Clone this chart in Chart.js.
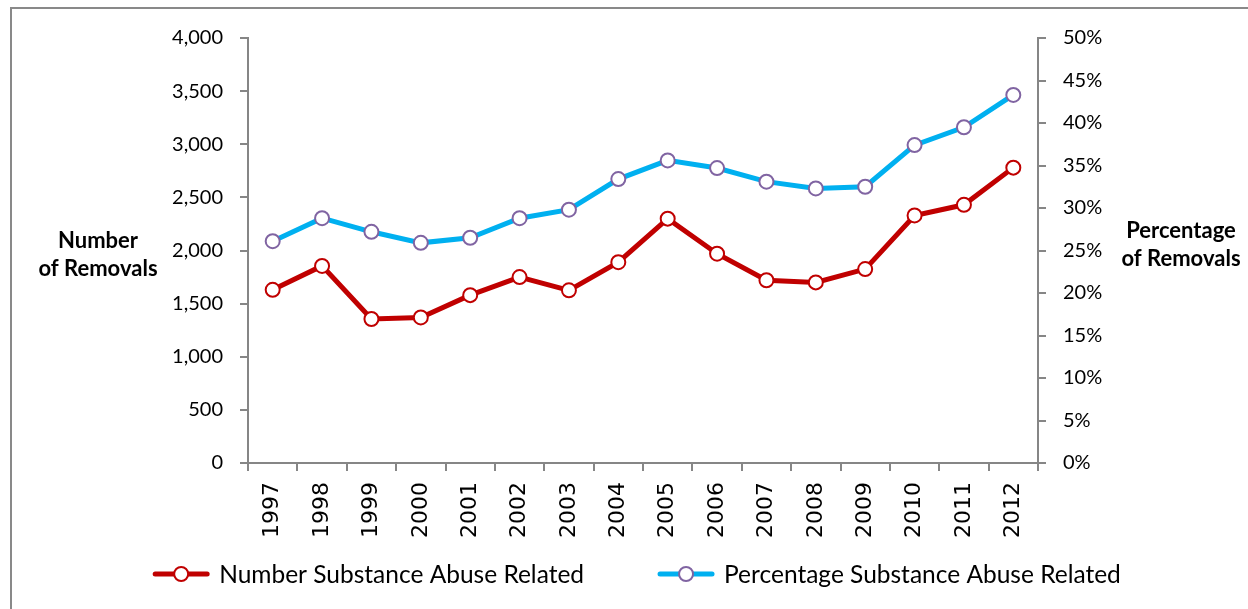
<!DOCTYPE html>
<html>
<head>
<meta charset="utf-8">
<script src="https://cdn.jsdelivr.net/npm/chart.js@4.4.1/dist/chart.umd.min.js"></script>
<style>
  html, body { margin: 0; padding: 0; background: #fff; overflow: hidden; }
  #frame { position: absolute; left: 10px; top: 7px; width: 1240px; height: 620px; border: 2px solid #898989; }
  #wrap { position: absolute; left: 0; top: 0; width: 1236px; height: 600px; }
</style>
</head>
<body>
<div id="frame"><div id="wrap"><canvas id="removalsChart"></canvas></div></div>
<script>
const years = ["1997", "1998", "1999", "2000", "2001", "2002", "2003", "2004",
  "2005", "2006", "2007", "2008", "2009", "2010", "2011", "2012"];
const numberRelated = [1630, 1855, 1355, 1370, 1580, 1750, 1625, 1890,
  2300, 1970, 1720, 1700, 1825, 2330, 2430, 2780];
const percentRelated = [26.1, 28.8, 27.2, 25.9, 26.5, 28.8, 29.8, 33.4,
  35.6, 34.7, 33.1, 32.3, 32.5, 37.4, 39.5, 43.3];

const leftTitle = ["Number", "of Removals"];
const rightTitle = ["Percentage", "of Removals"];
const seriesNames = ["Number Substance Abuse Related", "Percentage Substance Abuse Related"];

const RED = "#C00000";
const BLUE = "#00B0F0";
const PURPLE = "#8064A2";
const AXIS = "#868686";
const TEXT = "#000000";

// horizontal axis titles + legend with line/marker samples
const extras = {
  id: "extras",
  afterDraw(chart) {
    const { ctx, chartArea } = chart;
    ctx.save();
    ctx.fillStyle = TEXT;
    ctx.font = "bold 22px Lato";
    ctx.textAlign = "center";
    ctx.textBaseline = "middle";
    const midY = (chartArea.top + chartArea.bottom) / 2;
    ctx.fillText(leftTitle[0], chartArea.left - 150, midY - 10);
    ctx.fillText(leftTitle[1], chartArea.left - 150, midY + 18);
    ctx.fillText(rightTitle[0], chartArea.right + 143, midY - 20);
    ctx.fillText(rightTitle[1], chartArea.right + 143, midY + 8);

    // legend
    ctx.font = "24.5px Lato";
    const lineLen = 56, gapText = 10, gapItem = 74;
    const w0 = ctx.measureText(seriesNames[0]).width;
    const w1 = ctx.measureText(seriesNames[1]).width;
    const total = lineLen + gapText + w0 + gapItem + lineLen + gapText + w1;
    let x = chart.width / 2 + 7 - total / 2;
    const y = chart.height - 35;
    const items = [
      { color: RED, marker: RED, text: seriesNames[0], w: w0 },
      { color: BLUE, marker: PURPLE, text: seriesNames[1], w: w1 }
    ];
    items.forEach(it => {
      ctx.strokeStyle = it.color;
      ctx.lineWidth = 5;
      ctx.lineCap = "round";
      ctx.beginPath();
      ctx.moveTo(x + 2, y);
      ctx.lineTo(x + lineLen - 2, y);
      ctx.stroke();
      ctx.beginPath();
      ctx.arc(x + lineLen / 2, y, 7, 0, Math.PI * 2);
      ctx.fillStyle = "#fff";
      ctx.fill();
      ctx.lineWidth = 2;
      ctx.strokeStyle = it.marker;
      ctx.stroke();
      ctx.fillStyle = TEXT;
      ctx.textAlign = "left";
      ctx.fillText(it.text, x + lineLen + gapText, y + 1);
      x += lineLen + gapText + it.w + gapItem;
    });
    ctx.restore();
  }
};

const ctx = document.getElementById("removalsChart").getContext("2d");
const removalsChart = new Chart(ctx, {
  type: "line",
  data: {
    labels: years,
    datasets: [
      {
        label: seriesNames[0],
        data: numberRelated,
        yAxisID: "y",
        borderColor: RED,
        borderWidth: 5,
        pointRadius: 7,
        pointBorderWidth: 2,
        pointBackgroundColor: "#fff",
        pointBorderColor: RED,
        tension: 0,
      },
      {
        label: seriesNames[1],
        data: percentRelated,
        yAxisID: "y1",
        borderColor: BLUE,
        borderWidth: 5,
        pointRadius: 7,
        pointBorderWidth: 2,
        pointBackgroundColor: "#fff",
        pointBorderColor: PURPLE,
        tension: 0,
      },
    ],
  },
  options: {
    responsive: true,
    maintainAspectRatio: false,
    animation: false,
    layout: { padding: { left: 151, right: 130, top: 17, bottom: 56 } },
    plugins: { legend: { display: false }, tooltip: { enabled: false } },
    scales: {
      x: {
        offset: true,
        grid: { offset: true, drawOnChartArea: false, color: AXIS, lineWidth: 2, tickLength: 8 },
        border: { color: AXIS, width: 2 },
        ticks: {
          minRotation: 90,
          maxRotation: 90,
          padding: 11,
          color: TEXT,
          font: { family: "DejaVu Sans", size: 22 },
        },
        afterFit(scale) { scale.height = 90; },
      },
      y: {
        position: "left",
        min: 0,
        max: 4000,
        ticks: {
          stepSize: 500,
          padding: 17,
          color: TEXT,
          font: { family: "Lato", size: 20 },
          callback: v => v.toLocaleString("en-US"),
        },
        grid: { drawOnChartArea: false, color: AXIS, lineWidth: 2, tickLength: 8 },
        border: { color: AXIS, width: 2 },
        afterFit(scale) { scale.width = 85; },
      },
      y1: {
        position: "right",
        min: 0,
        max: 50,
        ticks: {
          stepSize: 5,
          padding: 17,
          color: TEXT,
          font: { family: "Lato", size: 20 },
          callback: v => v + "%",
        },
        grid: { drawOnChartArea: false, color: AXIS, lineWidth: 2, tickLength: 8 },
        border: { color: AXIS, width: 2 },
        afterFit(scale) { scale.width = 80; },
      },
    },
  },
  plugins: [extras],
});
</script>
</body>
</html>
